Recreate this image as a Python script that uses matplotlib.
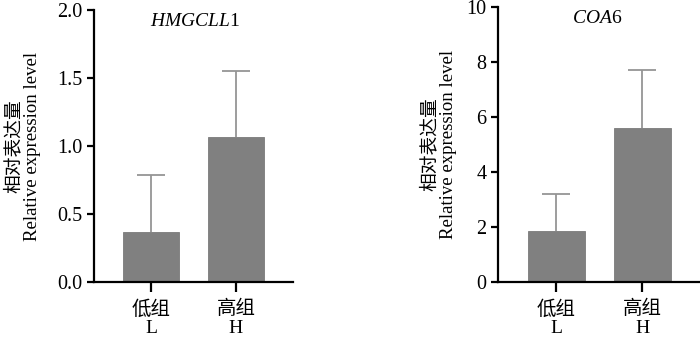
import matplotlib
matplotlib.use("Agg")
import matplotlib.pyplot as plt
import numpy as np

plt.rcParams['font.family'] = ['Liberation Serif', 'Noto Sans CJK SC']
plt.rcParams['mathtext.fontset'] = 'custom'
plt.rcParams['mathtext.rm'] = 'Liberation Serif'
plt.rcParams['mathtext.it'] = 'Liberation Serif:italic'

groups = ["低组\nL", "高组\nH"]

hmgcll1_mean = [0.37, 1.07]
hmgcll1_err = [0.42, 0.48]

coa6_mean = [1.85, 5.6]
coa6_err = [1.35, 2.1]

bar_color = "#808080"
err_color = "#959595"
ylabel = "相对表达量\nRelative expression level"

fig = plt.figure(figsize=(7, 3.37), dpi=100)
ax1 = fig.add_axes([0.134, 0.163, 0.284, 0.807])
ax2 = fig.add_axes([0.711, 0.163, 0.289, 0.816])


def draw(ax, means, errs, ymax, yticks, ticklabels, title, title_x, lpad):
    x = np.arange(len(means))
    ax.bar(x, means, width=0.66, color=bar_color, edgecolor="#7a7a7a", linewidth=0.6, zorder=2)
    eb = ax.errorbar(x, means, yerr=[np.zeros(len(errs)), errs], fmt="none",
                     ecolor=err_color, elinewidth=1.3, capsize=10, capthick=1.3, zorder=1)
    eb[1][0].set_visible(False)  # no cap at the bar top
    ax.set_xlim(-0.68, 1.67)
    ax.set_ylim(0, ymax)
    ax.set_yticks(yticks)
    ax.set_yticklabels(ticklabels, fontsize=14.5)
    ax.set_xticks(x)
    ax.set_xticklabels(groups, fontsize=14, linespacing=1.1)
    for s in ["top", "right"]:
        ax.spines[s].set_visible(False)
    for s in ["left", "bottom"]:
        ax.spines[s].set_linewidth(1.6)
    ax.tick_params(axis="y", direction="out", length=5, width=1.6, pad=3)
    ax.tick_params(axis="x", direction="out", length=7, width=1.6, pad=6)
    ax.set_ylabel(ylabel, fontsize=13.5, linespacing=1.05, labelpad=lpad)
    ax.text(title_x, 0.99, title, transform=ax.transAxes, ha="center", va="top", fontsize=14)


draw(ax1, hmgcll1_mean, hmgcll1_err, 2.0,
     [0, 0.5, 1.0, 1.5, 2.0], ["0.0", "0.5", "1.0", "1.5", "2.0"],
     r"$\mathit{HMGCLL}\mathrm{1}$", 0.51, 12)
draw(ax2, coa6_mean, coa6_err, 10,
     [0, 2, 4, 6, 8, 10], ["0", "2", "4", "6", "8", "10"],
     r"$\mathit{COA}\mathrm{6}$", 0.49, 7)

fig.savefig("out.png", dpi=100)
